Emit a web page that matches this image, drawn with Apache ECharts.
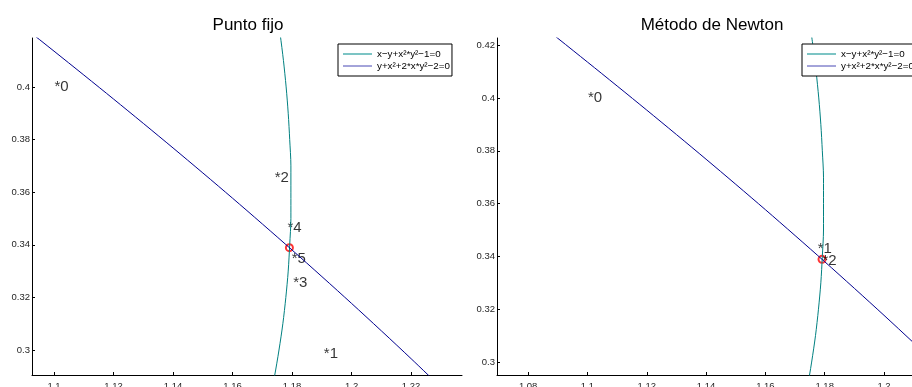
<!DOCTYPE html>
<html>
<head>
<meta charset="utf-8">
<script src="https://cdn.jsdelivr.net/npm/echarts@6/dist/echarts.min.js"></script>
<style>
  html, body { margin: 0; padding: 0; background: #fff; }
  #chart { width: 912px; height: 387px; }
</style>
</head>
<body>
<div id="chart"></div>
<script>
// curve 1: x - y + x^2*y^2 - 1 = 0 (read along y)
const tealY = [0.28, 0.29, 0.30, 0.31, 0.32, 0.33, 0.34, 0.35, 0.36, 0.37, 0.38, 0.39, 0.40, 0.41, 0.42, 0.43]
const tealX = [1.1723, 1.1741, 1.1756, 1.1769, 1.1779, 1.1787, 1.1792, 1.1796, 1.1796, 1.1796, 1.1792, 1.1787, 1.1780, 1.1771, 1.1760, 1.1748]

// curve 2: y + x^2 + 2*x*y^2 - 2 = 0 (read along x)
const blueX = [1.06, 1.08, 1.10, 1.12, 1.14, 1.16, 1.18, 1.20, 1.22, 1.24]
const blueY = [0.4490, 0.4315, 0.4136, 0.3954, 0.3768, 0.3577, 0.3380, 0.3177, 0.2967, 0.2749]

// iterations, punto fijo
const pfLabels = ['*0', '*1', '*2', '*3', '*4', '*5']
const pfX = [1.1, 1.1905, 1.1740, 1.1802, 1.1783, 1.1797]
const pfY = [0.4, 0.2985, 0.3654, 0.3256, 0.3464, 0.3346]

// iterations, Newton
const nwLabels = ['*0', '*1', '*2']
const nwX = [1.1, 1.1775, 1.1791]
const nwY = [0.4, 0.3430, 0.3383]

const root = [1.1791, 0.3389]

const xTicksLeft = [1.1, 1.12, 1.14, 1.16, 1.18, 1.2, 1.22]
const yTicksLeft = [0.3, 0.32, 0.34, 0.36, 0.38, 0.4]
const xTicksRight = [1.08, 1.1, 1.12, 1.14, 1.16, 1.18, 1.2]
const yTicksRight = [0.3, 0.32, 0.34, 0.36, 0.38, 0.4, 0.42]

const titles = ['Punto fijo', 'Método de Newton']
const name1 = 'x−y+x²*y²−1=0'
const name2 = 'y+x²+2*x*y²−2=0'

const FONT = "'Liberation Sans', Arial, sans-serif"
const TEAL = '#008080'
const BLUE = '#00008f'

const tealData = tealY.map((y, i) => [tealX[i], y])
const blueData = blueX.map((x, i) => [x, blueY[i]])
const fmt = v => String(parseFloat(Number(v).toFixed(3)))

const makeX = (min, max, ticks, idx) => ({
  type: 'value', gridIndex: idx, min, max,
  axisLine: { onZero: false, lineStyle: { color: '#000', width: 1 } },
  axisTick: { inside: true, length: 3, customValues: ticks, lineStyle: { color: '#000' } },
  axisLabel: { customValues: ticks, margin: 6, fontSize: 9.5, fontFamily: FONT, color: '#262626', formatter: fmt },
  splitLine: { show: false }
})
const makeY = (min, max, ticks, idx) => ({
  type: 'value', gridIndex: idx, min, max,
  axisLine: { show: true, onZero: false, lineStyle: { color: '#000', width: 1 } },
  axisTick: { show: true, inside: true, length: 3, customValues: ticks, lineStyle: { color: '#000' } },
  axisLabel: { customValues: ticks, margin: 2, fontSize: 9.5, fontFamily: FONT, color: '#262626', formatter: fmt },
  splitLine: { show: false }
})

const labelSeries = (labels, xs, ys, idx) => ({
  type: 'scatter', xAxisIndex: idx, yAxisIndex: idx,
  symbolSize: 1, itemStyle: { color: 'rgba(0,0,0,0)' },
  label: {
    show: true, position: 'right', distance: 0,
    fontSize: 15, fontFamily: FONT, color: '#000',
    formatter: p => labels[p.dataIndex]
  },
  silent: true,
  data: xs.map((x, i) => [x, ys[i]])
})

const hidden = { color: 'rgba(0,0,0,0)', borderColor: 'rgba(0,0,0,0)', borderWidth: 0, opacity: 0 }
const makeLegend = (left) => ({
  left, top: 44, orient: 'vertical',
  padding: [5, 2, 5, 4], itemGap: 2, itemWidth: 29, itemHeight: 12,
  borderColor: '#000', borderWidth: 1, backgroundColor: '#fff',
  textStyle: { fontSize: 9.8, fontFamily: FONT, color: '#000' },
  data: [
    { name: name1, itemStyle: hidden, lineStyle: { color: '#7cc4c4', width: 2 } },
    { name: name2, itemStyle: hidden, lineStyle: { color: '#4848b4', width: 1 } }
  ]
})

const chart = echarts.init(document.getElementById('chart'))
chart.setOption({
  animation: false,
  backgroundColor: '#fff',
  title: [
    { text: titles[0], left: 243, top: 12, textAlign: 'center', textStyle: { fontSize: 17, fontWeight: 'normal', fontFamily: FONT, color: '#000' } },
    { text: titles[1], left: 707, top: 12, textAlign: 'center', textStyle: { fontSize: 17, fontWeight: 'normal', fontFamily: FONT, color: '#000' } }
  ],
  grid: [
    { left: 32, top: 38, width: 430, height: 337, outerBoundsMode: 'none' },
    { left: 497, top: 38, width: 430, height: 337, outerBoundsMode: 'none' }
  ],
  xAxis: [
    makeX(1.0926, 1.2371, xTicksLeft, 0),
    makeX(1.0695, 1.2145, xTicksRight, 1)
  ],
  yAxis: [
    makeY(0.2905, 0.4186, yTicksLeft, 0),
    makeY(0.2951, 0.4227, yTicksRight, 1)
  ],
  legend: [makeLegend(338), makeLegend(802)],
  series: [
    { name: name1, type: 'line', xAxisIndex: 0, yAxisIndex: 0, showSymbol: false, symbol: 'none', smooth: 0.3,
      lineStyle: { color: TEAL, width: 1 }, itemStyle: { color: TEAL }, data: tealData },
    { name: name2, type: 'line', xAxisIndex: 0, yAxisIndex: 0, showSymbol: false, symbol: 'none', smooth: 0.3,
      lineStyle: { color: BLUE, width: 1 }, itemStyle: { color: BLUE }, data: blueData },
    { name: name1, type: 'line', xAxisIndex: 1, yAxisIndex: 1, showSymbol: false, symbol: 'none', smooth: 0.3,
      lineStyle: { color: TEAL, width: 1 }, itemStyle: { color: TEAL }, data: tealData },
    { name: name2, type: 'line', xAxisIndex: 1, yAxisIndex: 1, showSymbol: false, symbol: 'none', smooth: 0.3,
      lineStyle: { color: BLUE, width: 1 }, itemStyle: { color: BLUE }, data: blueData },
    labelSeries(pfLabels, pfX, pfY, 0),
    labelSeries(nwLabels, nwX, nwY, 1),
    { type: 'scatter', xAxisIndex: 0, yAxisIndex: 0, symbol: 'emptyCircle', symbolSize: 7, silent: true,
      itemStyle: { color: '#ff0000', borderColor: '#ff0000', borderWidth: 1 }, data: [root] },
    { type: 'scatter', xAxisIndex: 1, yAxisIndex: 1, symbol: 'emptyCircle', symbolSize: 7, silent: true,
      itemStyle: { color: '#ff0000', borderColor: '#ff0000', borderWidth: 1 }, data: [root] }
  ]
})
</script>
</body>
</html>
